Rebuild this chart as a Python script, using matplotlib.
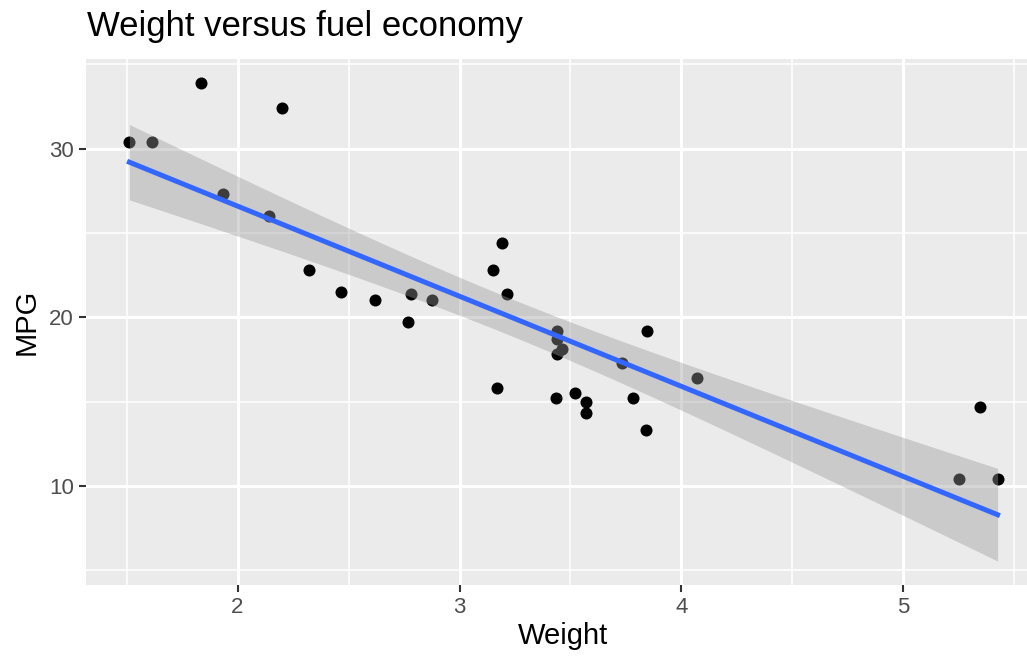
import matplotlib
matplotlib.use("Agg")
import matplotlib.pyplot as plt
import numpy as np

plt.rcParams['font.family'] = ['Liberation Sans', 'DejaVu Sans']

# mtcars: weight (1000 lbs) and miles per gallon
wt = np.array([2.620, 2.875, 2.320, 3.215, 3.440, 3.460, 3.570, 3.190, 3.150, 3.440,
               3.440, 4.070, 3.730, 3.780, 5.250, 5.424, 5.345, 2.200, 1.615, 1.835,
               2.465, 3.520, 3.435, 3.840, 3.845, 1.935, 2.140, 1.513, 3.170, 2.770,
               3.570, 2.780])
mpg = np.array([21.0, 21.0, 22.8, 21.4, 18.7, 18.1, 14.3, 24.4, 22.8, 19.2,
                17.8, 16.4, 17.3, 15.2, 10.4, 10.4, 14.7, 32.4, 30.4, 33.9,
                21.5, 15.5, 15.2, 13.3, 19.2, 27.3, 26.0, 30.4, 15.8, 19.7,
                15.0, 21.4])

x_ticks = [2, 3, 4, 5]
y_ticks = [10, 20, 30]

# linear fit with 95% confidence band
n = len(wt)
slope, intercept = np.polyfit(wt, mpg, 1)
resid = mpg - (intercept + slope * wt)
s = np.sqrt(np.sum(resid ** 2) / (n - 2))
xs = np.linspace(wt.min(), wt.max(), 80)
fit = intercept + slope * xs
se = s * np.sqrt(1 / n + (xs - wt.mean()) ** 2 / np.sum((wt - wt.mean()) ** 2))
t_crit = 2.042272  # t(0.975, df=30)
lo, hi = fit - t_crit * se, fit + t_crit * se

fig = plt.figure(figsize=(10.27, 6.56), dpi=100)
# panel runs past the right edge of the canvas
ax = fig.add_axes([86 / 1027, 1 - 585 / 656, 955 / 1027, 526 / 656])
ax.set_facecolor('#EBEBEB')

xmin, xmax = wt.min(), wt.max()
xpad = (xmax - xmin) * 0.05
ymin, ymax = min(mpg.min(), lo.min()), max(mpg.max(), hi.max())
ypad = (ymax - ymin) * 0.05
ax.set_xlim(xmin - xpad, xmax + xpad)
ax.set_ylim(ymin - ypad, ymax + ypad)

ax.set_xticks(x_ticks)
ax.set_yticks(y_ticks)
ax.set_xticks([1.5, 2.5, 3.5, 4.5, 5.5], minor=True)
ax.set_yticks([5, 15, 25, 35], minor=True)
ax.grid(which='major', color='white', linewidth=2.2)
ax.grid(which='minor', color='white', linewidth=1.1)
ax.set_axisbelow(True)
for sp in ax.spines.values():
    sp.set_visible(False)
ax.tick_params(which='major', length=5.2, width=1.5, color='#333333',
               labelcolor='#4D4D4D', labelsize=16, pad=3.5)
ax.tick_params(which='minor', length=0)

ax.scatter(wt, mpg, s=75, color='black', linewidths=0, zorder=2)
ax.fill_between(xs, lo, hi, color='#999999', alpha=0.4, linewidth=0, zorder=3)
ax.plot(xs, fit, color='#3366FF', linewidth=3.6, zorder=4)

ax.set_xlabel('Weight', fontsize=21, labelpad=3)
ax.set_ylabel('MPG', fontsize=21, labelpad=6)
fig.text(87 / 1027, 1 - 36 / 656, 'Weight versus fuel economy', fontsize=25,
         ha='left', va='baseline')

fig.savefig('out.png', dpi=100)
